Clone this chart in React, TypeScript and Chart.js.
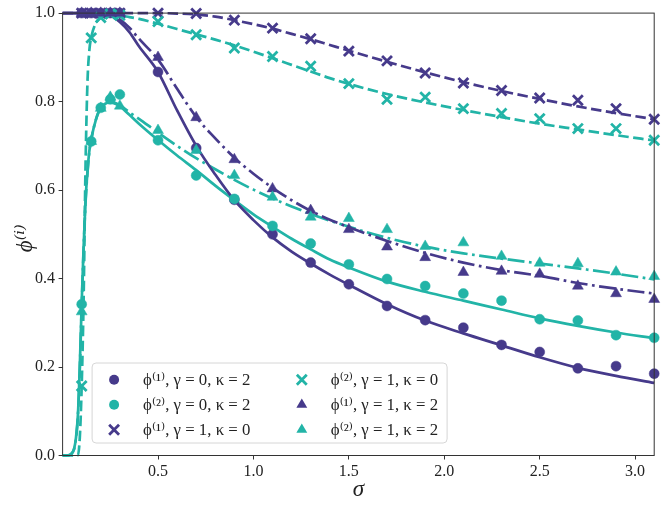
import React, { useEffect, useRef } from 'react';
import { Chart, registerables } from 'chart.js';

Chart.register(...registerables);

// ---------- data ----------
const sigmaCurve = [0, 0.02, 0.04, 0.06, 0.07, 0.08, 0.09, 0.1, 0.11, 0.12, 0.13, 0.14, 0.15, 0.175, 0.2, 0.25, 0.3, 0.35, 0.4, 0.5, 0.6, 0.7, 0.8, 0.9, 1.0, 1.1, 1.2, 1.3, 1.4, 1.5, 1.7, 1.9, 2.1, 2.3, 2.5, 2.7, 2.9, 3.1];

// theory curves
const curvePhi1G0K2 = [1, 1, 1, 1, 1, 1, 1, 1, 1, 1, 1, 1, 1, 1, 1, 0.995, 0.98, 0.957, 0.925, 0.867, 0.78, 0.7, 0.635, 0.577, 0.532, 0.493, 0.461, 0.434, 0.409, 0.386, 0.342, 0.305, 0.276, 0.249, 0.222, 0.198, 0.18, 0.164];
const curvePhi2G0K2 = [0, 0, 0.002, 0.015, 0.04, 0.09, 0.2, 0.344, 0.47, 0.575, 0.64, 0.688, 0.715, 0.76, 0.785, 0.798, 0.789, 0.77, 0.75, 0.713, 0.678, 0.645, 0.61, 0.577, 0.545, 0.517, 0.49, 0.466, 0.443, 0.425, 0.393, 0.37, 0.35, 0.33, 0.31, 0.293, 0.278, 0.265];
const curvePhi1G1K0 = [1, 1, 1, 1, 1, 1, 1, 1, 1, 1, 1, 1, 1, 1, 1, 1, 1, 1, 1, 1, 0.999, 0.997, 0.992, 0.984, 0.975, 0.965, 0.953, 0.941, 0.928, 0.915, 0.89, 0.866, 0.844, 0.824, 0.806, 0.789, 0.774, 0.76];
const curvePhi2G1K0 = [0, 0, 0, 0, 0, 0, 0.04, 0.157, 0.35, 0.65, 0.84, 0.915, 0.945, 0.978, 0.99, 0.997, 0.995, 0.991, 0.987, 0.976, 0.964, 0.952, 0.94, 0.927, 0.913, 0.898, 0.883, 0.868, 0.853, 0.84, 0.817, 0.798, 0.781, 0.765, 0.75, 0.737, 0.724, 0.712];
const curvePhi1G1K2 = [1, 1, 1, 1, 1, 1, 1, 1, 1, 1, 1, 1, 1, 1, 1, 0.997, 0.985, 0.967, 0.942, 0.895, 0.829, 0.765, 0.717, 0.673, 0.637, 0.605, 0.577, 0.553, 0.533, 0.516, 0.485, 0.458, 0.436, 0.419, 0.406, 0.39, 0.377, 0.366];
const curvePhi2G1K2 = [0, 0, 0.002, 0.014, 0.038, 0.088, 0.195, 0.335, 0.465, 0.57, 0.637, 0.686, 0.714, 0.76, 0.786, 0.8, 0.792, 0.776, 0.761, 0.73, 0.7, 0.672, 0.647, 0.623, 0.601, 0.581, 0.563, 0.546, 0.531, 0.517, 0.492, 0.472, 0.457, 0.445, 0.434, 0.423, 0.411, 0.398];

// simulation points
const sigmaSim = [0.1, 0.15, 0.2, 0.25, 0.3, 0.5, 0.7, 0.9, 1.1, 1.3, 1.5, 1.7, 1.9, 2.1, 2.3, 2.5, 2.7, 2.9, 3.1];
const simPhi1G0K2 = [1, 1, 1, 1, 1, 0.867, 0.695, 0.578, 0.5, 0.436, 0.387, 0.338, 0.306, 0.289, 0.25, 0.234, 0.197, 0.202, 0.185];
const simPhi2G0K2 = [0.342, 0.71, 0.786, 0.805, 0.816, 0.7125, 0.633, 0.58, 0.519, 0.479, 0.432, 0.399, 0.383, 0.366, 0.35, 0.308, 0.305, 0.272, 0.266];
const simPhi1G1K0 = [1, 1, 1, 1, 1, 1, 0.999, 0.984, 0.966, 0.942, 0.914, 0.892, 0.8645, 0.842, 0.825, 0.808, 0.803, 0.784, 0.76];
const simPhi2G1K0 = [0.157, 0.944, 0.99, 0.998, 0.995, 0.981, 0.951, 0.921, 0.902, 0.88, 0.8405, 0.805, 0.81, 0.784, 0.773, 0.7615, 0.739, 0.739, 0.7125];
const simPhi1G1K2 = [1, 1, 1, 1, 1, 0.9, 0.764, 0.669, 0.603, 0.554, 0.511, 0.4716, 0.4476, 0.414, 0.4167, 0.41, 0.383, 0.366, 0.353];
const simPhi2G1K2 = [0.325, 0.71, 0.785, 0.81, 0.79, 0.735, 0.69, 0.633, 0.584, 0.539, 0.536, 0.511, 0.473, 0.481, 0.4505, 0.435, 0.434, 0.415, 0.405];

const legendLabels = [
  'ϕ⁽¹⁾, γ = 0, κ = 2',
  'ϕ⁽²⁾, γ = 0, κ = 2',
  'ϕ⁽¹⁾, γ = 1, κ = 0',
  'ϕ⁽²⁾, γ = 1, κ = 0',
  'ϕ⁽¹⁾, γ = 1, κ = 2',
  'ϕ⁽²⁾, γ = 1, κ = 2',
];

const xTickValues = [0.5, 1.0, 1.5, 2.0, 2.5, 3.0];
const yTickValues = [0.0, 0.2, 0.4, 0.6, 0.8, 1.0];
const xAxisTitle = 'σ';
const yAxisTitle = 'ϕ⁽ⁱ⁾';

// ---------- styles ----------
const PURPLE = '#463a8b';
const TEAL = '#22b4a7';
const SERIF = "'Liberation Serif', 'DejaVu Serif', serif";
const AXIS_COLOR = '#333333';
const TEXT_COLOR = '#222222';

const pts = (xs: number[], ys: number[]) => xs.map((x, i) => ({ x, y: ys[i] }));

type MarkerKind = 'circle' | 'crossRot' | 'triangle';

const lineDs = (label: string, ys: number[], color: string, dash: number[]) => ({
  label,
  data: pts(sigmaCurve, ys),
  showLine: true,
  borderColor: color,
  backgroundColor: color,
  borderWidth: 2.7,
  borderDash: dash,
  pointRadius: 0,
  pointHoverRadius: 0,
  cubicInterpolationMode: 'monotone' as const,
  clip: false as const,
  order: 10,
});

const markerDs = (label: string, ys: number[], color: string, kind: MarkerKind, order: number) => ({
  label,
  data: pts(sigmaSim, ys),
  showLine: false,
  borderColor: color,
  backgroundColor: color,
  pointStyle: kind,
  pointRadius: kind === 'circle' ? 5 : kind === 'triangle' ? 6.3 : 7,
  pointBorderWidth: kind === 'crossRot' ? 2.8 : 0.5,
  pointHoverRadius: 0,
  clip: false as const,
  order,
  markerKind: kind,
});

function drawMarker(ctx: CanvasRenderingContext2D, kind: MarkerKind, x: number, y: number, color: string) {
  ctx.save();
  ctx.fillStyle = color;
  ctx.strokeStyle = color;
  if (kind === 'circle') {
    ctx.beginPath();
    ctx.arc(x, y, 5, 0, Math.PI * 2);
    ctx.fill();
  } else if (kind === 'crossRot') {
    const r = 7 * Math.SQRT1_2;
    ctx.lineWidth = 2.8;
    ctx.beginPath();
    ctx.moveTo(x - r, y - r);
    ctx.lineTo(x + r, y + r);
    ctx.moveTo(x - r, y + r);
    ctx.lineTo(x + r, y - r);
    ctx.stroke();
  } else {
    const r = 6.3;
    ctx.beginPath();
    ctx.moveTo(x, y - r);
    ctx.lineTo(x + r * Math.sin((2 * Math.PI) / 3), y - r * Math.cos((2 * Math.PI) / 3));
    ctx.lineTo(x + r * Math.sin((4 * Math.PI) / 3), y - r * Math.cos((4 * Math.PI) / 3));
    ctx.closePath();
    ctx.fill();
  }
  ctx.restore();
}

const decorPlugin = {
  id: 'decor',
  afterDatasetsDraw(chart: any) {
    const { ctx, chartArea } = chart;
    const { left, right, top, bottom } = chartArea;
    ctx.save();
    ctx.strokeStyle = AXIS_COLOR;
    ctx.lineWidth = 1;
    ctx.strokeRect(left, top, right - left, bottom - top);
    ctx.restore();
  },
  afterDraw(chart: any) {
    const { ctx, chartArea } = chart;
    const { left, right, top, bottom } = chartArea;

    // legend
    const markerSets = chart.data.datasets
      .filter((d: any) => d.markerKind)
      .sort((a: any, b: any) => b.order - a.order);
    const bx = left + 29.5;
    const bw = 355;
    const bh = 80;
    const by = bottom - 12.5 - bh;
    ctx.save();
    ctx.beginPath();
    (ctx as any).roundRect(bx, by, bw, bh, 4);
    ctx.fillStyle = 'rgba(255,255,255,0.85)';
    ctx.fill();
    ctx.strokeStyle = '#d6d6d6';
    ctx.lineWidth = 1;
    ctx.stroke();
    ctx.font = `16.8px ${SERIF}`;
    ctx.fillStyle = TEXT_COLOR;
    ctx.textBaseline = 'middle';
    ctx.textAlign = 'left';
    markerSets.forEach((d: any, i: number) => {
      const col = Math.floor(i / 3);
      const row = i % 3;
      const mx = bx + 22 + col * 187.7;
      const my = by + 16.7 + row * 25;
      drawMarker(ctx, d.markerKind, mx, my, d.borderColor);
      ctx.fillStyle = TEXT_COLOR;
      ctx.fillText(d.label, mx + 29, my + 1);
    });
    ctx.restore();

    // axis titles
    ctx.save();
    ctx.fillStyle = TEXT_COLOR;
    ctx.textAlign = 'center';
    ctx.textBaseline = 'middle';
    ctx.font = `italic 23px ${SERIF}`;
    ctx.fillText(xAxisTitle, (left + right) / 2, 490);
    ctx.translate(26, (top + bottom) / 2 + 4);
    ctx.rotate(-Math.PI / 2);
    ctx.font = `italic 23px ${SERIF}`;
    ctx.fillText(yAxisTitle, 0, 0);
    ctx.restore();
  },
};

export default function App() {
  const canvasRef = useRef<HTMLCanvasElement | null>(null);

  useEffect(() => {
    if (!canvasRef.current) return;
    const tickFont = { family: SERIF, size: 16 };
    const chart = new Chart(canvasRef.current, {
      type: 'scatter',
      data: {
        datasets: [
          markerDs(legendLabels[5], simPhi2G1K2, TEAL, 'triangle', 1),
          markerDs(legendLabels[4], simPhi1G1K2, PURPLE, 'triangle', 2),
          markerDs(legendLabels[3], simPhi2G1K0, TEAL, 'crossRot', 3),
          markerDs(legendLabels[2], simPhi1G1K0, PURPLE, 'crossRot', 4),
          markerDs(legendLabels[1], simPhi2G0K2, TEAL, 'circle', 5),
          markerDs(legendLabels[0], simPhi1G0K2, PURPLE, 'circle', 6),
          lineDs('theory ' + legendLabels[0], curvePhi1G0K2, PURPLE, []),
          lineDs('theory ' + legendLabels[1], curvePhi2G0K2, TEAL, []),
          lineDs('theory ' + legendLabels[2], curvePhi1G1K0, PURPLE, [10.5, 4.5]),
          lineDs('theory ' + legendLabels[3], curvePhi2G1K0, TEAL, [10.5, 4.5]),
          lineDs('theory ' + legendLabels[4], curvePhi1G1K2, PURPLE, [17, 4.5, 2.7, 4.5]),
          lineDs('theory ' + legendLabels[5], curvePhi2G1K2, TEAL, [17, 4.5, 2.7, 4.5]),
        ] as any,
      },
      options: {
        animation: false,
        responsive: false,
        maintainAspectRatio: false,
        events: [],
        layout: { padding: { top: 12.5, right: 6.2, left: 0, bottom: 0 } },
        plugins: {
          legend: { display: false },
          tooltip: { enabled: false },
        },
        scales: {
          x: {
            type: 'linear',
            min: 0,
            max: 3.1,
            afterBuildTicks: (s: any) => {
              s.ticks = xTickValues.map((v) => ({ value: v }));
            },
            afterFit: (s: any) => {
              s.height = 55.5;
            },
            ticks: {
              callback: (v: any) => Number(v).toFixed(1),
              font: tickFont,
              color: TEXT_COLOR,
              padding: 3,
              maxRotation: 0,
              autoSkip: false,
            },
            grid: { display: true, drawOnChartArea: false, drawTicks: true, tickLength: 4, color: AXIS_COLOR, lineWidth: 1 },
            border: { display: false },
          },
          y: {
            type: 'linear',
            min: 0,
            max: 1,
            afterBuildTicks: (s: any) => {
              s.ticks = yTickValues.map((v) => ({ value: v }));
            },
            afterFit: (s: any) => {
              s.width = 62.6;
            },
            ticks: {
              callback: (v: any) => Number(v).toFixed(1),
              font: tickFont,
              color: TEXT_COLOR,
              padding: 3.5,
              autoSkip: false,
            },
            grid: { display: true, drawOnChartArea: false, drawTicks: true, tickLength: 4, color: AXIS_COLOR, lineWidth: 1 },
            border: { display: false },
          },
        },
      },
      plugins: [decorPlugin],
    } as any);
    return () => chart.destroy();
  }, []);

  return (
    <div style={{ position: 'absolute', left: 0, top: 0, width: 664, height: 511, background: '#fff' }}>
      <canvas ref={canvasRef} width={664} height={511} style={{ width: 664, height: 511, display: 'block' }} />
    </div>
  );
}
